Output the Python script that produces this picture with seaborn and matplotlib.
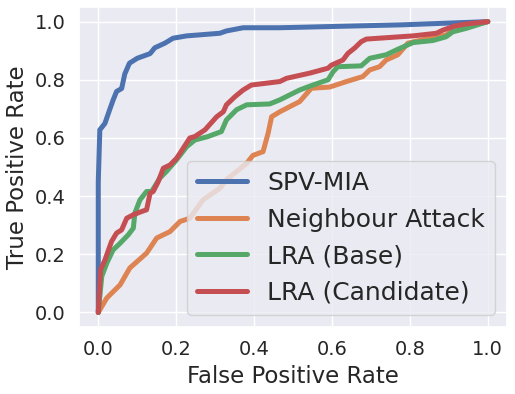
import matplotlib
matplotlib.use("Agg")
import matplotlib.pyplot as plt
import seaborn as sns
import pandas as pd

# ROC points
spv_fpr = [0.0, 0.0, 0.004, 0.017, 0.03, 0.038, 0.047, 0.06, 0.068, 0.08, 0.10, 0.133, 0.145,
           0.171, 0.192, 0.227, 0.312, 0.329, 0.372, 0.466, 0.78, 1.0]
spv_tpr = [0.0, 0.45, 0.628, 0.65, 0.70, 0.73, 0.76, 0.77, 0.82, 0.857, 0.874, 0.89, 0.91,
           0.926, 0.943, 0.951, 0.96, 0.968, 0.979, 0.979, 0.989, 1.0]

nb_fpr = [0.0, 0.022, 0.056, 0.081, 0.124, 0.15, 0.184, 0.21, 0.235, 0.269, 0.312, 0.329, 0.381,
          0.397, 0.423, 0.436, 0.445, 0.466, 0.492, 0.517, 0.547, 0.594, 0.637, 0.679, 0.697,
          0.722, 0.739, 0.769, 0.795, 0.85, 0.893, 0.91, 0.945, 1.0]
nb_tpr = [0.0, 0.05, 0.095, 0.153, 0.204, 0.256, 0.278, 0.313, 0.324, 0.387, 0.427, 0.456, 0.513,
          0.540, 0.553, 0.616, 0.673, 0.69, 0.708, 0.725, 0.771, 0.775, 0.794, 0.811, 0.834,
          0.845, 0.868, 0.886, 0.926, 0.943, 0.954, 0.971, 0.983, 1.0]

base_fpr = [0.0, 0.009, 0.022, 0.038, 0.056, 0.077, 0.09, 0.094, 0.107, 0.124, 0.137, 0.158,
            0.175, 0.201, 0.227, 0.248, 0.282, 0.304, 0.316, 0.329, 0.355, 0.381, 0.44, 0.466,
            0.517, 0.551, 0.59, 0.603, 0.615, 0.675, 0.697, 0.739, 0.769, 0.808, 0.859, 0.893,
            0.91, 0.945, 1.0]
base_tpr = [0.0, 0.124, 0.17, 0.215, 0.238, 0.267, 0.29, 0.342, 0.387, 0.416, 0.416, 0.462,
            0.485, 0.525, 0.57, 0.593, 0.605, 0.616, 0.622, 0.662, 0.697, 0.714, 0.717, 0.731,
            0.765, 0.782, 0.80, 0.828, 0.845, 0.848, 0.874, 0.886, 0.905, 0.928, 0.935, 0.948,
            0.965, 0.977, 1.0]

cand_fpr = [0.0, 0.006, 0.017, 0.034, 0.047, 0.06, 0.073, 0.09, 0.111, 0.124, 0.133, 0.141,
            0.154, 0.167, 0.184, 0.201, 0.21, 0.235, 0.248, 0.274, 0.304, 0.321, 0.329, 0.351,
            0.372, 0.393, 0.466, 0.483, 0.543, 0.59, 0.598, 0.628, 0.641, 0.658, 0.675, 0.688,
            0.808, 0.868, 0.885, 0.915, 0.945, 1.0]
cand_tpr = [0.0, 0.147, 0.18, 0.244, 0.273, 0.284, 0.324, 0.336, 0.347, 0.353, 0.41, 0.416,
            0.45, 0.496, 0.507, 0.53, 0.548, 0.6, 0.605, 0.628, 0.673, 0.69, 0.714, 0.742,
            0.765, 0.782, 0.794, 0.805, 0.823, 0.84, 0.85, 0.868, 0.891, 0.909, 0.931, 0.94,
            0.951, 0.96, 0.971, 0.985, 0.992, 1.0]

series = [
    ("SPV-MIA", spv_fpr, spv_tpr),
    ("Neighbour Attack", nb_fpr, nb_tpr),
    ("LRA (Base)", base_fpr, base_tpr),
    ("LRA (Candidate)", cand_fpr, cand_tpr),
]

sns.set_theme(style="darkgrid")
colors = sns.color_palette("deep")

fig, ax = plt.subplots(figsize=(5.15, 3.94), dpi=100)
for i, (name, fpr, tpr) in enumerate(series):
    df = pd.DataFrame({"fpr": fpr, "tpr": tpr})
    sns.lineplot(data=df, x="fpr", y="tpr", ax=ax, estimator=None, sort=False,
                 color=colors[i], linewidth=3.6, label=name)

ax.set_xlim(-0.05, 1.05)
ax.set_ylim(-0.05, 1.05)
ax.set_xticks([0.0, 0.2, 0.4, 0.6, 0.8, 1.0])
ax.set_yticks([0.0, 0.2, 0.4, 0.6, 0.8, 1.0])
ax.tick_params(labelsize=14)
ax.set_xlabel("False Positive Rate", fontsize=16.5)
ax.set_ylabel("True Positive Rate", fontsize=16.5)
ax.legend(loc="lower right", fontsize=18, handlelength=2.0)

plt.subplots_adjust(left=0.153, right=0.985, top=0.982, bottom=0.17)
plt.savefig("out.png", dpi=100)
plt.close()
